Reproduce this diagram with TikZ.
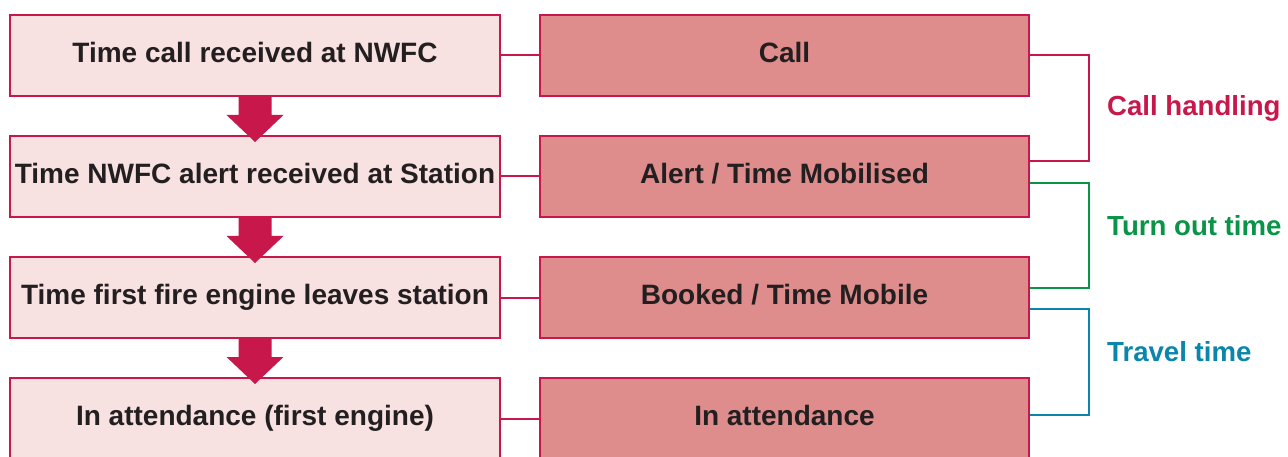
\documentclass[tikz,border=0pt]{standalone}
\usepackage{fontspec}
\setmainfont{Liberation Sans}
\usetikzlibrary{calc}
\definecolor{crim}{HTML}{C8174B}
\definecolor{pinkfill}{HTML}{F7E1E1}
\definecolor{rosefill}{HTML}{DE8C8C}
\definecolor{txt}{HTML}{231F20}
\definecolor{grn}{HTML}{0A9447}
\definecolor{blu}{HTML}{0A86AA}
\begin{document}
\begin{tikzpicture}[x=1pt,y=-1pt,
  every node/.style={font=\fontsize{27.6}{30}\selectfont\bfseries},
  boxtext/.style={font=\fontsize{28}{30}\selectfont\bfseries},
  lbox/.style={boxtext,draw=crim,line width=2pt,fill=pinkfill,minimum width=490pt,minimum height=81pt,inner sep=0pt,text=txt},
  rbox/.style={boxtext,draw=crim,line width=2pt,fill=rosefill,minimum width=489pt,minimum height=81pt,inner sep=0pt,text=txt},
  link/.style={crim,line width=2pt},
  bigarrow/.style={fill=crim,draw=none},
  brk/.style={line width=2pt},
  lab/.style={anchor=base west,inner sep=0pt}]
\useasboundingbox (0,0) rectangle (1288,457);
\begin{scope}
\clip (0,0) rectangle (1288,457);
\node[lbox] (l1) at (255,55.5) {\raisebox{7pt}{Time call received at NWFC}};
\node[lbox] (l2) at (255,176.5) {\raisebox{7pt}{Time NWFC alert received at Station}};
\node[lbox] (l3) at (255,297.5) {\raisebox{7pt}{Time first fire engine leaves station}};
\node[lbox] (l4) at (255,418.5) {\raisebox{7pt}{In attendance (first engine)}};
\node[rbox] (r1) at (784.5,55.5) {\raisebox{7pt}{Call}};
\node[rbox] (r2) at (784.5,176.5) {\raisebox{7pt}{Alert / Time Mobilised}};
\node[rbox] (r3) at (784.5,297.5) {\raisebox{7pt}{Booked / Time Mobile}};
\node[rbox] (r4) at (784.5,418.5) {\raisebox{7pt}{In attendance}};
\foreach \a/\b in {l1/r1,l2/r2,l3/r3,l4/r4} \draw[link] (\a.east) -- (\b.west);
\foreach \a/\b in {l1/l2,l2/l3,l3/l4}
  \fill[bigarrow] ($(\a.south)+(-16.5,-1)$) -- ($(\a.south)+(16.5,-1)$) -- ($(\a.south)+(16.5,18)$)
    -- ($(\a.south)+(28.5,18)$) -- ($(\b.north)+(0,7)$) -- ($(\a.south)+(-28.5,18)$) -- ($(\a.south)+(-16.5,18)$) -- cycle;
\end{scope}
\coordinate (c1) at ($(r1.east)+(0,-0.5)$);
\coordinate (c2) at ($(r2.east)+(0,-15.5)$);
\coordinate (g1) at ($(r2.east)+(0,6.5)$);
\coordinate (g2) at ($(r3.east)+(0,-9.5)$);
\coordinate (b1) at ($(r3.east)+(0,11.5)$);
\coordinate (b2) at ($(r4.east)+(0,-3.5)$);
\draw[brk,crim] (c1) -- (c1 -| 1089,0) -- (c2 -| 1089,0) -- (c2);
\draw[brk,grn] (g1) -- (g1 -| 1089,0) -- (g2 -| 1089,0) -- (g2);
\draw[brk,blu] (b1) -- (b1 -| 1089,0) -- (b2 -| 1089,0) -- (b2);
\node[lab,text=crim] (tc) at (1107,115.5) {Call handling};
\node[lab,text=grn] (tg) at (1107,236) {Turn out time};
\node[lab,text=blu] (tb) at (1107,361) {Travel time};
\end{tikzpicture}
\end{document}
